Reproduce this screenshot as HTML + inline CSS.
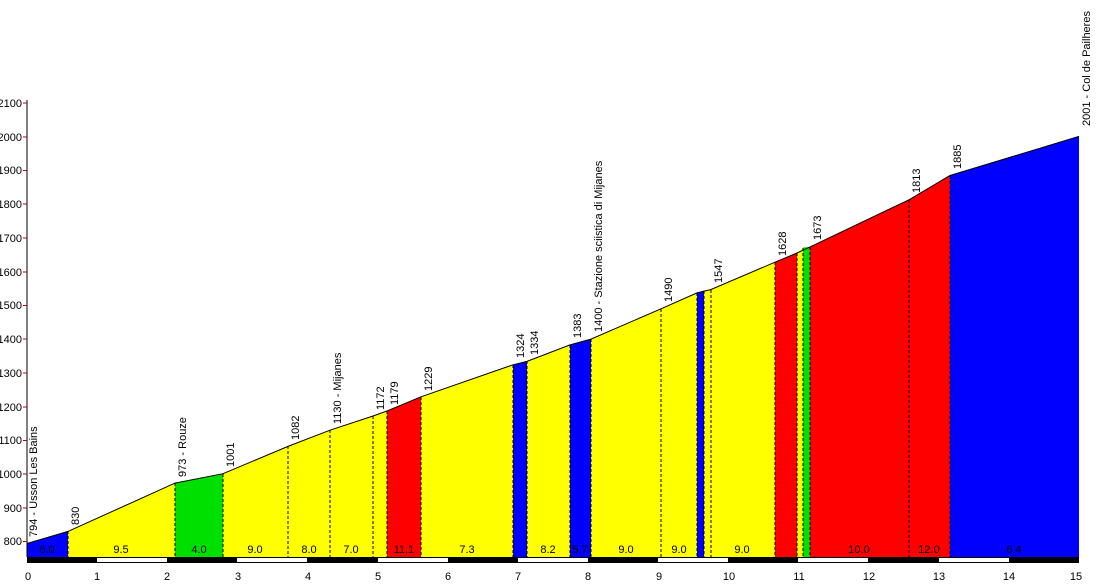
<!DOCTYPE html>
<html><head><meta charset="utf-8"><style>
html,body{margin:0;padding:0;background:#fff;width:1109px;height:587px;overflow:hidden}
svg text{font-family:"Liberation Sans",sans-serif;font-size:11px;fill:#000}
</style></head><body>
<svg width="1109" height="587" viewBox="0 0 1109 587" xmlns="http://www.w3.org/2000/svg">
<g stroke="none">
<polygon points="27,557 27,543.5 68,531.4 68,557" fill="#0000ff"/>
<polygon points="68,557 68,531.4 175,483.1 175,557" fill="#ffff00"/>
<polygon points="175,557 175,483.1 223,473.7 223,557" fill="#00e000"/>
<polygon points="223,557 223,473.7 288,446.4 330,430.2 373,416 387,411 387,557" fill="#ffff00"/>
<polygon points="387,557 387,411 421,396.8 421,557" fill="#ff0000"/>
<polygon points="421,557 421,396.8 513,364.8 513,557" fill="#ffff00"/>
<polygon points="513,557 513,364.8 527,361.4 527,557" fill="#0000ff"/>
<polygon points="527,557 527,361.4 570,344.9 570,557" fill="#ffff00"/>
<polygon points="570,557 570,344.9 591,339.1 591,557" fill="#0000ff"/>
<polygon points="591,557 591,339.1 661,308.8 697,292.9 697,557" fill="#ffff00"/>
<polygon points="697,557 697,292.9 704,290.5 704,557" fill="#0000ff"/>
<polygon points="704,557 704,290.5 711,289.5 775,262.2 775,557" fill="#ffff00"/>
<polygon points="775,557 775,262.2 797,253 797,557" fill="#ff0000"/>
<polygon points="797,557 797,253 803,247.5 803,557" fill="#ffff00"/>
<polygon points="803,557 803,247.5 810,246.9 810,557" fill="#00e000"/>
<polygon points="810,557 810,246.9 909,199.8 950,175.5 950,557" fill="#ff0000"/>
<polygon points="950,557 950,175.5 1079,136.4 1079,557" fill="#0000ff"/>
</g>
<polyline points="27,543.5 68,531.4 175,483.1 223,473.7 288,446.4 330,430.2 373,416 387,411 421,396.8 513,364.8 527,361.4 570,344.9 591,339.1 661,308.8 697,292.9 711,289.5 775,262.2 797,253 810,246.9 909,199.8 950,175.5 1079,136.4" fill="none" stroke="#000" stroke-width="1"/>
<g stroke="#000" stroke-width="1" stroke-dasharray="3,2">
<line x1="68" y1="531" x2="68" y2="557"/><line x1="175" y1="483" x2="175" y2="557"/>
<line x1="223" y1="474" x2="223" y2="557"/><line x1="288" y1="446" x2="288" y2="557"/>
<line x1="330" y1="430" x2="330" y2="557"/><line x1="373" y1="416" x2="373" y2="557"/>
<line x1="387" y1="411" x2="387" y2="557"/><line x1="421" y1="397" x2="421" y2="557"/>
<line x1="513" y1="365" x2="513" y2="557"/><line x1="527" y1="361" x2="527" y2="557"/>
<line x1="570" y1="345" x2="570" y2="557"/><line x1="591" y1="339" x2="591" y2="557"/>
<line x1="661" y1="309" x2="661" y2="557"/><line x1="697" y1="293" x2="697" y2="557"/>
<line x1="704" y1="291" x2="704" y2="557"/><line x1="711" y1="290" x2="711" y2="557"/>
<line x1="775" y1="262" x2="775" y2="557"/><line x1="797" y1="253" x2="797" y2="557"/>
<line x1="803" y1="248" x2="803" y2="557"/><line x1="810" y1="247" x2="810" y2="557"/>
<line x1="909" y1="200" x2="909" y2="557"/><line x1="950" y1="176" x2="950" y2="557"/>
</g>
<line x1="27" y1="100" x2="27" y2="557" stroke="#000"/>
<g stroke="#c00000">
<line x1="23" y1="103" x2="27" y2="103"/><line x1="23" y1="137" x2="27" y2="137"/><line x1="23" y1="170.5" x2="27" y2="170.5"/>
<line x1="23" y1="204" x2="27" y2="204"/><line x1="23" y1="238" x2="27" y2="238"/><line x1="23" y1="272" x2="27" y2="272"/>
<line x1="23" y1="305.5" x2="27" y2="305.5"/><line x1="23" y1="339" x2="27" y2="339"/><line x1="23" y1="373" x2="27" y2="373"/>
<line x1="23" y1="407" x2="27" y2="407"/><line x1="23" y1="440.5" x2="27" y2="440.5"/><line x1="23" y1="474" x2="27" y2="474"/>
<line x1="23" y1="508" x2="27" y2="508"/><line x1="23" y1="541.5" x2="27" y2="541.5"/>
</g>
<g text-anchor="end">
<text x="22" y="107">2100</text><text x="22" y="141">2000</text><text x="22" y="174">1900</text>
<text x="22" y="208">1800</text><text x="22" y="242">1700</text><text x="22" y="276">1600</text>
<text x="22" y="309">1500</text><text x="22" y="343">1400</text><text x="22" y="377">1300</text>
<text x="22" y="411">1200</text><text x="22" y="444">1100</text><text x="22" y="478">1000</text>
<text x="22" y="512">900</text><text x="22" y="545">800</text>
</g>
<g>
<rect x="27" y="557" width="1052" height="6" fill="#000"/>
<rect x="97" y="558" width="70" height="4" fill="#fff"/><rect x="237" y="558" width="70" height="4" fill="#fff"/>
<rect x="378" y="558" width="70" height="4" fill="#fff"/><rect x="518" y="558" width="70" height="4" fill="#fff"/>
<rect x="658" y="558" width="70" height="4" fill="#fff"/><rect x="798" y="558" width="70" height="4" fill="#fff"/>
<rect x="939" y="558" width="70" height="4" fill="#fff"/>
</g>
<g text-anchor="middle">
<text x="28" y="580">0</text><text x="97" y="580">1</text><text x="167" y="580">2</text><text x="238" y="580">3</text>
<text x="308" y="580">4</text><text x="378" y="580">5</text><text x="448" y="580">6</text><text x="518" y="580">7</text>
<text x="588" y="580">8</text><text x="659" y="580">9</text><text x="729" y="580">10</text><text x="799" y="580">11</text>
<text x="869" y="580">12</text><text x="939" y="580">13</text><text x="1009" y="580">14</text><text x="1076" y="580">15</text>
</g>
<g text-anchor="middle">
<text x="47" y="553" fill="#333">6.0</text><text x="121" y="553" fill="#333">9.5</text><text x="199" y="553" fill="#333">4.0</text>
<text x="255" y="553" fill="#333">9.0</text><text x="309" y="553" fill="#333">8.0</text><text x="351" y="553" fill="#333">7.0</text>
<text x="404" y="553" fill="#333">11.1</text><text x="467" y="553" fill="#333">7.3</text><text x="548" y="553" fill="#333">8.2</text>
<text x="580" y="553" fill="#333">5.7</text><text x="626" y="553" fill="#333">9.0</text><text x="679" y="553" fill="#333">9.0</text>
<text x="742" y="553" fill="#333">9.0</text><text x="859" y="553" fill="#333">10.0</text><text x="929" y="553" fill="#333">12.0</text>
<text x="1014" y="553" fill="#333">6.4</text>
</g>
<g>
<text transform="translate(37,537) rotate(-90)">794 - Usson Les Bains</text>
<text transform="translate(79,525) rotate(-90)">830</text>
<text transform="translate(186,477) rotate(-90)">973 - Rouze</text>
<text transform="translate(234,467) rotate(-90)">1001</text>
<text transform="translate(299,440) rotate(-90)">1082</text>
<text transform="translate(341,424) rotate(-90)">1130 - Mijanes</text>
<text transform="translate(384,410) rotate(-90)">1172</text>
<text transform="translate(398,405) rotate(-90)">1179</text>
<text transform="translate(432,391) rotate(-90)">1229</text>
<text transform="translate(524,358) rotate(-90)">1324</text>
<text transform="translate(538,355) rotate(-90)">1334</text>
<text transform="translate(581,338) rotate(-90)">1383</text>
<text transform="translate(602,332) rotate(-90)">1400 - Stazione sciistica di Mijanes</text>
<text transform="translate(672,302) rotate(-90)">1490</text>
<text transform="translate(722,283) rotate(-90)">1547</text>
<text transform="translate(786,256) rotate(-90)">1628</text>
<text transform="translate(821,240) rotate(-90)">1673</text>
<text transform="translate(920,193) rotate(-90)">1813</text>
<text transform="translate(961,169) rotate(-90)">1885</text>
<text transform="translate(1090,126) rotate(-90)">2001 - Col de Pailheres</text>
</g>
</svg>
</body></html>
